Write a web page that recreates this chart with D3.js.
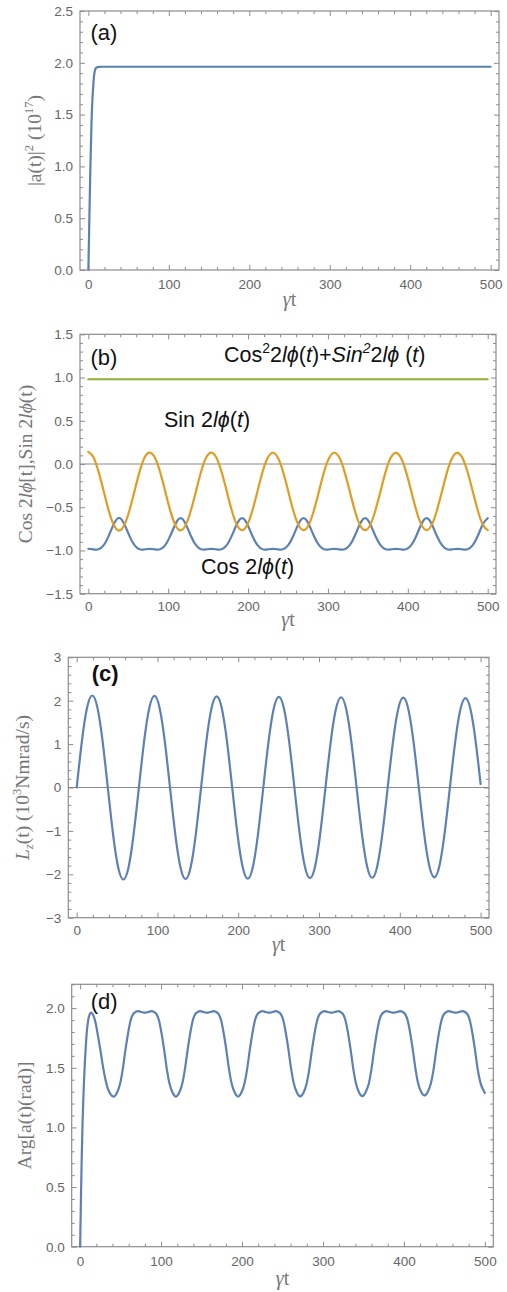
<!DOCTYPE html>
<html>
<head>
<meta charset="utf-8">
<script src="https://cdn.jsdelivr.net/npm/d3@7"></script>
<style>
  body { margin: 0; background: #fff; }
  .tick text { font-family: "Liberation Sans", Arial, sans-serif; font-size: 13.5px; fill: #666; }
  .tick line { stroke: #8c8c8c; stroke-width: 1; }
</style>
</head>
<body>
<svg id="fig" width="507" height="1292"></svg>
<script>
// ---------- shared axis values ----------
const xMajor = [0, 100, 200, 300, 400, 500];
const xMinor = [20, 40, 60, 80, 120, 140, 160, 180, 220, 240, 260, 280, 320, 340, 360, 380, 420, 440, 460, 480];
const xDomain = [-10.4, 510.4];

// ---------- (a) |a(t)|^2 in units of 10^17 ----------
const tA   = [0, 0.5, 1, 1.5, 2, 2.5, 3, 3.5, 4, 5, 6, 7, 8, 9, 10, 12, 14, 17, 20, 30, 500];
const ampA = [0, 0.2, 0.4, 0.6, 0.8, 0.98, 1.15, 1.3, 1.44, 1.64, 1.77, 1.87, 1.92, 1.945, 1.953, 1.959, 1.961, 1.962, 1.962, 1.962, 1.962];
const yTicksA = [0, 0.5, 1, 1.5, 2, 2.5];

// ---------- (b) and (c): common time samples ----------
const tB = [0, 6.4, 12.8, 19.3, 25.7, 32.1, 38.5, 44.9, 51.3, 57.8, 64.2, 70.6,
  77, 83.4, 89.8, 96.3, 102.7, 109.1, 115.5, 121.9, 128.3, 134.8, 141.2, 147.6,
  154, 160.4, 166.8, 173.3, 179.7, 186.1, 192.5, 198.9, 205.3, 211.8, 218.2, 224.6,
  231, 237.4, 243.8, 250.3, 256.7, 263.1, 269.5, 275.9, 282.3, 288.8, 295.2, 301.6,
  308, 314.4, 320.8, 327.3, 333.7, 340.1, 346.5, 352.9, 359.3, 365.8, 372.2, 378.6,
  385, 391.4, 397.8, 404.3, 410.7, 417.1, 423.5, 429.9, 436.3, 442.8, 449.2, 455.6,
  462, 468.4, 474.8, 481.3, 487.7, 494.1, 500];

// Sin 2lφ(t)
const sinB = [0.14, 0.079, -0.088, -0.315, -0.543, -0.709, -0.77, -0.709, -0.543, -0.315, -0.088, 0.079,
  0.132, 0.073, -0.09, -0.316, -0.542, -0.707, -0.767, -0.707, -0.541, -0.315, -0.089, 0.074,
  0.131, 0.072, -0.09, -0.315, -0.541, -0.706, -0.766, -0.706, -0.541, -0.315, -0.09, 0.072,
  0.13, 0.072, -0.09, -0.316, -0.541, -0.706, -0.765, -0.705, -0.54, -0.315, -0.09, 0.072,
  0.13, 0.071, -0.091, -0.316, -0.54, -0.705, -0.765, -0.705, -0.54, -0.316, -0.091, 0.071,
  0.129, 0.071, -0.091, -0.316, -0.54, -0.704, -0.764, -0.704, -0.54, -0.316, -0.091, 0.071,
  0.129, 0.07, -0.092, -0.316, -0.54, -0.704, -0.764];

// Cos 2lφ(t)
const cosB = [-0.98, -0.987, -0.986, -0.939, -0.828, -0.691, -0.622, -0.691, -0.828, -0.939, -0.986, -0.987,
  -0.981, -0.987, -0.986, -0.939, -0.829, -0.693, -0.625, -0.693, -0.829, -0.939, -0.986, -0.987,
  -0.981, -0.987, -0.986, -0.939, -0.829, -0.694, -0.626, -0.694, -0.829, -0.939, -0.986, -0.987,
  -0.981, -0.987, -0.986, -0.939, -0.83, -0.694, -0.626, -0.694, -0.83, -0.939, -0.986, -0.987,
  -0.981, -0.987, -0.986, -0.939, -0.83, -0.694, -0.626, -0.694, -0.83, -0.939, -0.986, -0.987,
  -0.981, -0.987, -0.986, -0.939, -0.83, -0.694, -0.627, -0.694, -0.83, -0.939, -0.986, -0.987,
  -0.981, -0.987, -0.986, -0.939, -0.83, -0.694, -0.627];

// Cos^2 + Sin^2
const tSum = [0, 500];
const sumB = [0.98, 0.98];
const yTicksB = [-1.5, -1, -0.5, 0, 0.5, 1, 1.5];

// ---------- (c) L_z(t) in units of 10^3 N m rad/s ----------
const lzC = [0, 1.06, 1.836, 2.12, 1.836, 1.06, 0, -1.06, -1.836, -2.12, -1.836, -1.06,
  0, 1.055, 1.827, 2.11, 1.827, 1.055, 0, -1.055, -1.827, -2.11, -1.827, -1.055,
  0, 1.05, 1.819, 2.1, 1.819, 1.05, 0, -1.05, -1.819, -2.1, -1.819, -1.05,
  0, 1.045, 1.81, 2.09, 1.81, 1.045, 0, -1.045, -1.81, -2.09, -1.81, -1.045,
  0, 1.04, 1.801, 2.08, 1.801, 1.04, 0, -1.04, -1.801, -2.08, -1.801, -1.04,
  0, 1.035, 1.793, 2.07, 1.793, 1.035, 0, -1.035, -1.793, -2.07, -1.793, -1.035,
  0, 1.03, 1.784, 2.06, 1.784, 1.03, 0.08];
const yTicksC = [-3, -2, -1, 0, 1, 2, 3];

// ---------- (d) Arg[a(t)] in rad ----------
const tD = [0, 1, 2, 3, 4, 5, 6, 7, 8, 10, 12, 13.6, 16, 19, 22, 25, 28, 31, 34, 37.5, 41.5,
  45.5, 49.5, 52.5, 56, 59.5, 62.5, 65.5, 68.5, 71.5, 75.5, 79.9, 84.3, 88.3, 91.3, 94.3, 97.3, 100.3, 103.8, 107.3, 110.3, 114.3, 118.3,
  122.3, 126.3, 129.3, 132.8, 136.3, 139.3, 142.3, 145.3, 148.3, 152.3, 156.7, 161.1, 165.1, 168.1, 171.1, 174.1, 177.1, 180.6, 184.1, 187.1, 191.1, 195.1,
  199.1, 203.1, 206.1, 209.6, 213.1, 216.1, 219.1, 222.1, 225.1, 229.1, 233.5, 237.9, 241.9, 244.9, 247.9, 250.9, 253.9, 257.4, 260.9, 263.9, 267.9, 271.9,
  275.9, 279.9, 282.9, 286.4, 289.9, 292.9, 295.9, 298.9, 301.9, 305.9, 310.3, 314.7, 318.7, 321.7, 324.7, 327.7, 330.7, 334.2, 337.7, 340.7, 344.7, 348.7,
  352.7, 356.7, 359.7, 363.2, 366.7, 369.7, 372.7, 375.7, 378.7, 382.7, 387.1, 391.5, 395.5, 398.5, 401.5, 404.5, 407.5, 411, 414.5, 417.5, 421.5, 425.5,
  429.5, 433.5, 436.5, 440, 443.5, 446.5, 449.5, 452.5, 455.5, 459.5, 463.9, 468.3, 472.3, 475.3, 478.3, 481.3, 484.3, 487.8, 491.3, 494.3, 498.3, 500];
const argD = [0, 0.4, 0.75, 1.03, 1.25, 1.42, 1.56, 1.68, 1.78, 1.9, 1.95, 1.963, 1.945, 1.88, 1.77, 1.65, 1.52, 1.41, 1.33, 1.28, 1.258,
  1.29, 1.37, 1.48, 1.65, 1.8, 1.9, 1.95, 1.968, 1.975, 1.968, 1.962, 1.968, 1.975, 1.968, 1.95, 1.9, 1.8, 1.65, 1.48, 1.37, 1.29, 1.258,
  1.29, 1.37, 1.48, 1.65, 1.8, 1.9, 1.95, 1.968, 1.975, 1.968, 1.962, 1.968, 1.975, 1.968, 1.95, 1.9, 1.8, 1.65, 1.48, 1.37, 1.29, 1.259,
  1.29, 1.37, 1.48, 1.65, 1.8, 1.9, 1.95, 1.968, 1.975, 1.968, 1.962, 1.968, 1.975, 1.968, 1.95, 1.9, 1.8, 1.65, 1.48, 1.37, 1.29, 1.26,
  1.29, 1.37, 1.48, 1.65, 1.8, 1.9, 1.95, 1.968, 1.975, 1.968, 1.962, 1.968, 1.975, 1.968, 1.95, 1.9, 1.8, 1.65, 1.48, 1.37, 1.29, 1.262,
  1.295, 1.37, 1.48, 1.65, 1.8, 1.9, 1.95, 1.968, 1.975, 1.968, 1.962, 1.968, 1.975, 1.968, 1.95, 1.9, 1.8, 1.65, 1.48, 1.37, 1.295, 1.268,
  1.3, 1.375, 1.48, 1.65, 1.8, 1.9, 1.95, 1.968, 1.975, 1.968, 1.962, 1.968, 1.975, 1.968, 1.95, 1.9, 1.8, 1.65, 1.48, 1.38, 1.31, 1.29];
const yTicksD = [0, 0.5, 1, 1.5, 2];

// ---------- drawing ----------
const BLUE = "#5e81b5", ORANGE = "#e19c24", GREEN = "#8fb032";
const FRAME = "#8c8c8c";
const SERIF = "'Liberation Serif', 'Times New Roman', serif";
const SANS = "'Liberation Sans', Arial, sans-serif";
const svg = d3.select("#fig");

// Rich text: parts are [string, flags] where flags may contain
// "i" (italic), "^" (superscript) or "_" (subscript).
function rich(textSel, parts, fs) {
  let off = 0;
  parts.forEach(([s, f = ""]) => {
    const target = f.includes("^") ? -0.42 * fs : f.includes("_") ? 0.22 * fs : 0;
    const ts = textSel.append("tspan").attr("dy", target - off).text(s);
    if (target !== 0) ts.attr("font-size", 0.65 * fs);
    if (f.includes("i")) ts.attr("font-style", "italic");
    off = target;
  });
}

function makePanel(p) {
  const g = svg.append("g");
  const x = d3.scaleLinear().domain(xDomain).range([p.left, p.right]);
  const y = d3.scaleLinear().domain(p.yDomain).range([p.bottom, p.top]);
  const clean = s => s.select(".domain").remove();

  g.append("g").attr("transform", `translate(0,${p.bottom})`)
    .call(d3.axisBottom(x).tickValues(xMajor).tickSizeInner(-5).tickSizeOuter(0).tickPadding(p.xPad).tickFormat(d3.format("d")))
    .call(clean);
  g.append("g").attr("transform", `translate(0,${p.bottom})`)
    .call(d3.axisBottom(x).tickValues(xMinor).tickSizeInner(-3).tickSizeOuter(0).tickFormat(""))
    .call(clean);
  g.append("g").attr("transform", `translate(0,${p.top})`)
    .call(d3.axisTop(x).tickValues(xMajor).tickSizeInner(-5).tickSizeOuter(0).tickFormat(""))
    .call(clean);
  g.append("g").attr("transform", `translate(0,${p.top})`)
    .call(d3.axisTop(x).tickValues(xMinor).tickSizeInner(-3).tickSizeOuter(0).tickFormat(""))
    .call(clean);
  const yMinor = d3.range(p.yDomain[0], p.yDomain[1] + 1e-9, p.yMinorStep)
    .filter(v => !p.yTicks.some(t => Math.abs(t - v) < 1e-6));
  g.append("g").attr("transform", `translate(${p.left},0)`)
    .call(d3.axisLeft(y).tickValues(p.yTicks).tickSizeInner(-5).tickSizeOuter(0).tickPadding(7).tickFormat(d3.format(p.yFmt)))
    .call(clean);
  g.append("g").attr("transform", `translate(${p.left},0)`)
    .call(d3.axisLeft(y).tickValues(yMinor).tickSizeInner(-3).tickSizeOuter(0).tickFormat(""))
    .call(clean);
  g.append("g").attr("transform", `translate(${p.right},0)`)
    .call(d3.axisRight(y).tickValues(p.yTicks).tickSizeInner(-5).tickSizeOuter(0).tickFormat(""))
    .call(clean);
  g.append("g").attr("transform", `translate(${p.right},0)`)
    .call(d3.axisRight(y).tickValues(yMinor).tickSizeInner(-3).tickSizeOuter(0).tickFormat(""))
    .call(clean);

  g.append("rect")
    .attr("x", p.left).attr("y", p.top)
    .attr("width", p.right - p.left).attr("height", p.bottom - p.top)
    .attr("fill", "none").attr("stroke", FRAME).attr("stroke-width", 1.2);

  if (p.zeroLine) {
    g.append("line")
      .attr("x1", p.left).attr("x2", p.right)
      .attr("y1", y(0)).attr("y2", y(0))
      .attr("stroke", "#8a8a8a").attr("stroke-width", 1.2);
  }

  // x title "γt"
  const xt = g.append("text")
    .attr("x", (p.left + p.right) / 2).attr("y", p.xTitleY)
    .attr("text-anchor", "middle")
    .attr("font-family", SERIF).attr("font-size", 20).attr("fill", "#777");
  rich(xt, [["γ", "i"], ["t"]], 20);

  // y title
  const yt = g.append("text")
    .attr("transform", `translate(${p.yTitleX},${(p.top + p.bottom) / 2}) rotate(-90)`)
    .attr("text-anchor", "middle")
    .attr("font-family", SERIF).attr("font-size", 19.5).attr("fill", "#777");
  rich(yt, p.yTitle, 19.5);

  // panel letter
  g.append("text")
    .attr("x", p.left + p.tagDx).attr("y", p.tagY)
    .attr("font-family", SANS)
    .attr("font-size", 22).attr("font-weight", p.tagBold ? "bold" : "normal")
    .attr("fill", "#111").text(p.tag);

  return { g, x, y };
}

function drawLine(panel, ts, vs, color, curve) {
  const pts = ts.map((t, i) => [t, vs[i]]);
  panel.g.append("path")
    .datum(pts)
    .attr("fill", "none").attr("stroke", color).attr("stroke-width", 2.2)
    .attr("stroke-linejoin", "round").attr("stroke-linecap", "round")
    .attr("d", d3.line().x(d => panel.x(d[0])).y(d => panel.y(d[1])).curve(curve));
}

function note(panel, xPos, yPos, parts) {
  const t = panel.g.append("text").attr("x", xPos).attr("y", yPos)
    .attr("font-family", SANS).attr("font-size", 21.5).attr("fill", "#111");
  rich(t, parts, 21.5);
}

// (a)
const pa = makePanel({
  left: 80, right: 499, top: 11, bottom: 270, yDomain: [0, 2.5], yTicks: yTicksA, yMinorStep: 0.1, yFmt: ".1f",
  xPad: 9, xTitleY: 306, yTitleX: 41, tag: "(a)", tagDx: 10.5, tagY: 40,
  yTitle: [["|a(t)|"], ["2", "^"], [" (10"], ["17", "^"], [")"]]
});
drawLine(pa, tA, ampA, BLUE, d3.curveMonotoneX);

// (b)
const pb = makePanel({
  left: 80, right: 496, top: 334.3, bottom: 593.7, yDomain: [-1.5, 1.5], yTicks: yTicksB, yMinorStep: 0.1, yFmt: ".1f",
  xPad: 8, xTitleY: 626, yTitleX: 32, tag: "(b)", tagDx: 10.5, tagY: 365, zeroLine: true,
  yTitle: [["Cos 2"], ["lϕ", "i"], ["[t],Sin 2"], ["lϕ", "i"], ["(t)"]]
});
drawLine(pb, tSum, sumB, GREEN, d3.curveLinear);
drawLine(pb, tB, cosB, BLUE, d3.curveNatural);
drawLine(pb, tB, sinB, ORANGE, d3.curveNatural);

note(pb, 224, 362, [["Cos"], ["2", "^"], ["2"], ["lϕ", "i"], ["("], ["t", "i"], [")"], ["+"], ["Sin", "i"], ["2", "^i"], ["2"], ["lϕ", "i"], [" ("], ["t", "i"], [")"]]);
note(pb, 164, 427, [["Sin 2"], ["lϕ", "i"], ["("], ["t", "i"], [")"]]);
note(pb, 201, 574, [["Cos 2"], ["lϕ", "i"], ["("], ["t", "i"], [")"]]);

// (c)
const pc = makePanel({
  left: 68.3, right: 489, top: 657.3, bottom: 917.7, yDomain: [-3, 3], yTicks: yTicksC, yMinorStep: 0.2, yFmt: "d",
  xPad: 8, xTitleY: 951, yTitleX: 29, tag: "(c)", tagDx: 23.4, tagY: 681, zeroLine: true, tagBold: true,
  yTitle: [["L", "i"], ["z", "_i"], ["(t) (10"], ["3", "^"], ["Nmrad/s)"]]
});
drawLine(pc, tB, lzC, BLUE, d3.curveNatural);

// (d)
const pd = makePanel({
  left: 71.7, right: 493.3, top: 984.3, bottom: 1246.7, yDomain: [0, 2.2], yTicks: yTicksD, yMinorStep: 0.1, yFmt: ".1f",
  xPad: 10, xTitleY: 1285, yTitleX: 31, tag: "(d)", tagDx: 19, tagY: 1009,
  yTitle: [["Arg[a(t)(rad)]"]]
});
drawLine(pd, tD, argD, BLUE, d3.curveMonotoneX);
</script>
</body>
</html>
